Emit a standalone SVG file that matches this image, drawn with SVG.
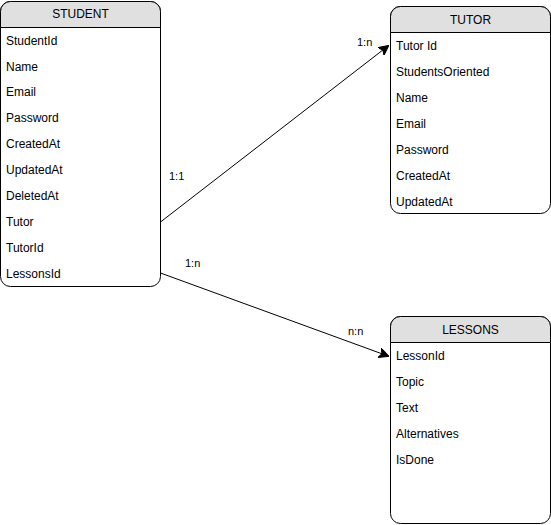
<svg xmlns="http://www.w3.org/2000/svg" width="551" height="525" viewBox="0 0 551 525">
<style>
.box{fill:#ffffff;stroke:#000000;stroke-width:1}
.hdr{fill:#e0e0e0;stroke:#000000;stroke-width:1}
.t{font-family:"Liberation Sans",Arial,Helvetica,sans-serif;font-size:12px;fill:#000000}
.h{font-family:"Liberation Sans",Arial,Helvetica,sans-serif;font-size:12px;fill:#000000;text-anchor:middle}
.l{font-family:"Liberation Sans",Arial,Helvetica,sans-serif;font-size:11px;fill:#000000}
.edge{fill:none;stroke:#000000;stroke-width:1}
</style>
<defs>
<marker id="arr" viewBox="0 0 10 10" refX="9" refY="5" markerWidth="10" markerHeight="10" markerUnits="userSpaceOnUse" orient="auto">
<path d="M0,0 L10,5 L0,10 L2.5,5 Z" fill="#000000" stroke="#000000" stroke-width="1"/>
</marker>
</defs>
<rect width="551" height="525" fill="#ffffff"/>
<g id="connectors">
<line class="edge" x1="160.5" y1="222" x2="388" y2="46" marker-end="url(#arr)"/>
<line class="edge" x1="160.5" y1="273" x2="388" y2="356" marker-end="url(#arr)"/>
<text class="l" x="357" y="46">1:n</text>
<text class="l" x="169" y="180">1:1</text>
<text class="l" x="185" y="267">1:n</text>
<text class="l" x="348" y="335">n:n</text>
</g>
<g id="student">
<rect class="box" x="0.5" y="1.5" width="160" height="285" rx="10" ry="10"/>
<path class="hdr" d="M0.5,27.5 V11.5 A10,10 0 0 1 10.5,1.5 H150.5 A10,10 0 0 1 160.5,11.5 V27.5 Z"/>
<text class="h" x="80.5" y="17.5">STUDENT</text>
<text class="t" x="6" y="45">StudentId</text>
<text class="t" x="6" y="70.5">Name</text>
<text class="t" x="6" y="95.5">Email</text>
<text class="t" x="6" y="121.5">Password</text>
<text class="t" x="6" y="147.5">CreatedAt</text>
<text class="t" x="6" y="173.5">UpdatedAt</text>
<text class="t" x="6" y="199.5">DeletedAt</text>
<text class="t" x="6" y="225.5">Tutor</text>
<text class="t" x="6" y="251.5">TutorId</text>
<text class="t" x="6" y="277.5">LessonsId</text>
</g>
<g id="tutor">
<rect class="box" x="390.5" y="6.5" width="160" height="207" rx="10" ry="10"/>
<path class="hdr" d="M390.5,32.5 V16.5 A10,10 0 0 1 400.5,6.5 H540.5 A10,10 0 0 1 550.5,16.5 V32.5 Z"/>
<text class="h" x="470.5" y="23.5">TUTOR</text>
<text class="t" x="396" y="50">Tutor Id</text>
<text class="t" x="396" y="76">StudentsOriented</text>
<text class="t" x="396" y="102">Name</text>
<text class="t" x="396" y="128">Email</text>
<text class="t" x="396" y="154">Password</text>
<text class="t" x="396" y="180">CreatedAt</text>
<text class="t" x="396" y="206">UpdatedAt</text>
</g>
<g id="lessons">
<rect class="box" x="390.5" y="316.5" width="160" height="207" rx="10" ry="10"/>
<path class="hdr" d="M390.5,342.5 V326.5 A10,10 0 0 1 400.5,316.5 H540.5 A10,10 0 0 1 550.5,326.5 V342.5 Z"/>
<text class="h" x="470.5" y="333.5">LESSONS</text>
<text class="t" x="396" y="360">LessonId</text>
<text class="t" x="396" y="386">Topic</text>
<text class="t" x="396" y="412">Text</text>
<text class="t" x="396" y="438">Alternatives</text>
<text class="t" x="396" y="464">IsDone</text>
</g>
</svg>
